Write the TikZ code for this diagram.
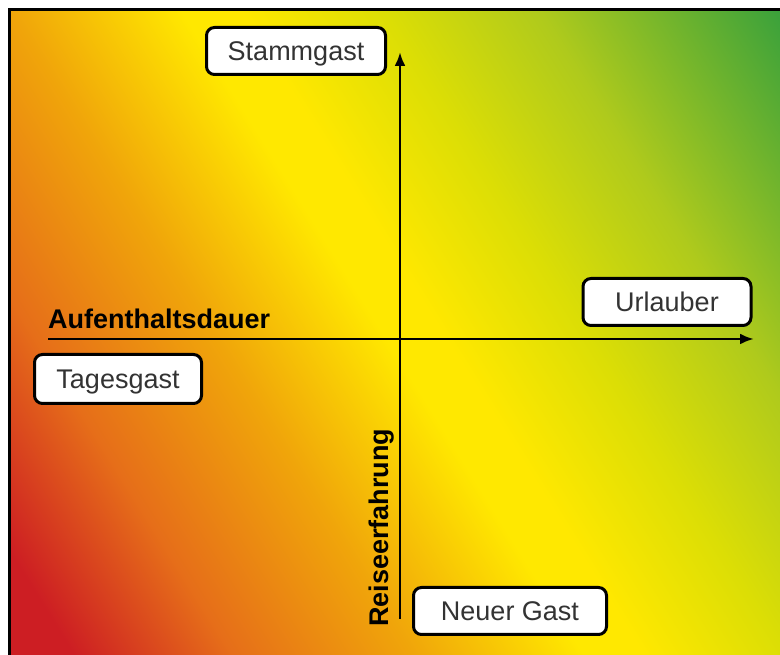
\documentclass[tikz,border=0pt]{standalone}
\usepackage{fontspec}
\setmainfont{Liberation Sans}
\usetikzlibrary{arrows.meta}

\definecolor{hRed}{RGB}{205,30,35}
\definecolor{hOrange}{RGB}{230,110,25}
\definecolor{hAmber}{RGB}{240,165,10}
\definecolor{hYellow}{RGB}{255,232,0}
\definecolor{hPale}{RGB}{220,222,5}
\definecolor{hLime}{RGB}{175,202,28}
\definecolor{hGreen}{RGB}{55,160,60}
\pgfdeclarehorizontalshading{HeatShade}{100bp}{color(0bp)=(hRed); color(28bp)=(hRed); color(34.7bp)=(hOrange); color(42.3bp)=(hAmber); color(49.5bp)=(hYellow); color(52bp)=(hYellow); color(58bp)=(hPale); color(64.6bp)=(hLime); color(75bp)=(hGreen); color(100bp)=(hGreen)}

\begin{document}
\begin{tikzpicture}[x=1pt, y=1pt]
    \useasboundingbox (0,0) rectangle (780,655);
    \begin{scope}
        \clip (9,0) rectangle (780,645);
        \shade[shading=HeatShade, shading angle=32] (-110.5,-182.5) rectangle (899.5,827.5);
    \end{scope}
    \draw[line width=3pt] (9,-10) -- (9,645) -- (790,645);

    \tikzset{BoxStyle/.style={draw, line width=3pt, rounded corners=8pt, fill=white,
        text=black!80, font=\fontsize{27}{32}\selectfont, inner sep=0pt,
        text height=19.5pt, text depth=0pt, minimum height=47pt}}
    \node[BoxStyle, minimum width=179pt] (Stammgast) at (296,604) {Stammgast};
    \node[BoxStyle, minimum width=167pt, minimum height=49pt] (Tagesgast) at (118,276) {Tagesgast};
    \node[BoxStyle, minimum width=168pt] (Urlauber) at (667,353) {Urlauber};
    \node[BoxStyle, minimum width=193pt] (NeuerGast) at (510,44) {Neuer Gast};

    \tikzset{AxisStyle/.style={line width=2.8pt, -{Latex[length=14pt,width=11pt]}}}
    \coordinate (XStart) at (48,316);
    \coordinate (XEnd) at (754,316);
    \coordinate (YStart) at (400,36);
    \coordinate (YEnd) at (400,603);
    \draw[AxisStyle] (XStart) -- (XEnd);
    \draw[AxisStyle] (YStart) -- (YEnd);

    \tikzset{LabelStyle/.style={font=\bfseries\fontsize{27}{32}\selectfont, inner sep=0pt}}
    \node[LabelStyle, anchor=base west] (Dauer) at (48,326) {Aufenthaltsdauer};
    \node[LabelStyle, rotate=90, anchor=base west] (Erfahrung) at (388,28) {Reiseerfahrung};
\end{tikzpicture}
\end{document}
